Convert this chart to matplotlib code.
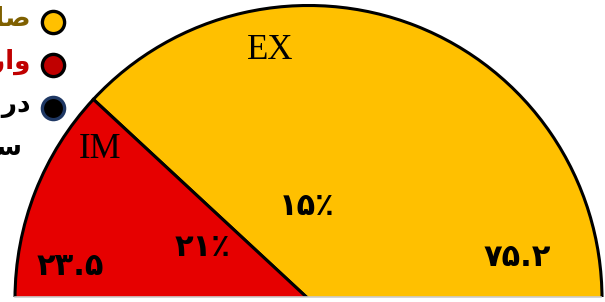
import matplotlib
matplotlib.use('Agg')
import matplotlib.pyplot as plt
from matplotlib.patches import Rectangle

# data
parts = ['EX', 'IM']
values = [75.2, 23.5]
value_labels = ['\u06f7\u06f5.\u06f2', '\u06f2\u06f3.\u06f5']
share_labels = ['\u06f1\u06f5\u066a', '\u06f2\u06f1\u066a']
colors = ['#FFC000', '#E60000']

# legend texts (arabic presentation forms, visual order), cut off on the left
legend_texts = ['\uFE95\uFE8D\uFEAD\uFEA9\uFE8E\uFEBB',
                '\uFE95\uFE8D\uFEA9\uFEAD\uFE8D\uFEED',
                '\uFEAA\uFEBB\uFEAD\uFEA9']
legend_text2 = '\uFEE2\uFEEC\uFEB3'
legend_text_colors = ['#7F6000', '#C00000', 'black']
legend_fill = ['#FFC000', '#C00000', 'black']
legend_edge = ['black', 'black', '#1F3864']

fig = plt.figure(figsize=(6.05, 3.02), dpi=100)
ax = fig.add_axes([0, 0, 1, 1])

# half pie: hidden slice fills the lower half
wedges, _ = ax.pie(values + [sum(values)], startangle=0, counterclock=True,
                   colors=colors + ['none'],
                   wedgeprops=dict(edgecolor='black', linewidth=2.2))
wedges[2].set_edgecolor('none')

ax.set_aspect('auto')
ax.set_xlim(-1.0511, 1.0102)
ax.set_ylim(-0.0102, 1.0187)
ax.axis('off')

# cut the bottom edge off, with faint shadow line
ax.add_patch(Rectangle((-1.2, -0.2), 2.4, 0.2085, facecolor='white',
                       edgecolor='none', zorder=5))
ax.plot([-1.0, 0.995], [0.006, 0.006], color='#cccccc', lw=1.2, zorder=6)

serif = dict(family='Liberation Serif', fontsize=25, ha='center', va='center')
ax.text(-0.13, 0.845, parts[0], **serif)
ax.text(-0.71, 0.51, parts[1], **serif)

fa = dict(family=['DejaVu Sans', 'Noto Sans'], fontweight='bold',
          fontsize=22, ha='center', va='center')
ax.text(0.71, 0.14, value_labels[0], **fa)
ax.text(-0.812, 0.11, value_labels[1], **fa)
ax.text(-0.005, 0.315, share_labels[0], **fa)
ax.text(-0.36, 0.174, share_labels[1], **fa)

# legend drawn by hand
ys = [21.5, 65, 108]
lg = dict(family=['DejaVu Sans', 'Noto Sans'], fontweight='bold', fontsize=19,
          ha='right', va='center', transform=fig.transFigure)
for i, y in enumerate(ys):
    fig.lines.append(plt.Line2D([53 / 605], [1 - y / 302], marker='o',
                                markersize=16, markerfacecolor=legend_fill[i],
                                markeredgecolor=legend_edge[i], mew=2.4,
                                transform=fig.transFigure))
    fig.text(31 / 605, 1 - (y - 3) / 302, legend_texts[i],
             color=legend_text_colors[i], **lg)
fig.text(22 / 605, 1 - 148 / 302, legend_text2, color='black', **lg)

fig.savefig('out.png', dpi=100)
